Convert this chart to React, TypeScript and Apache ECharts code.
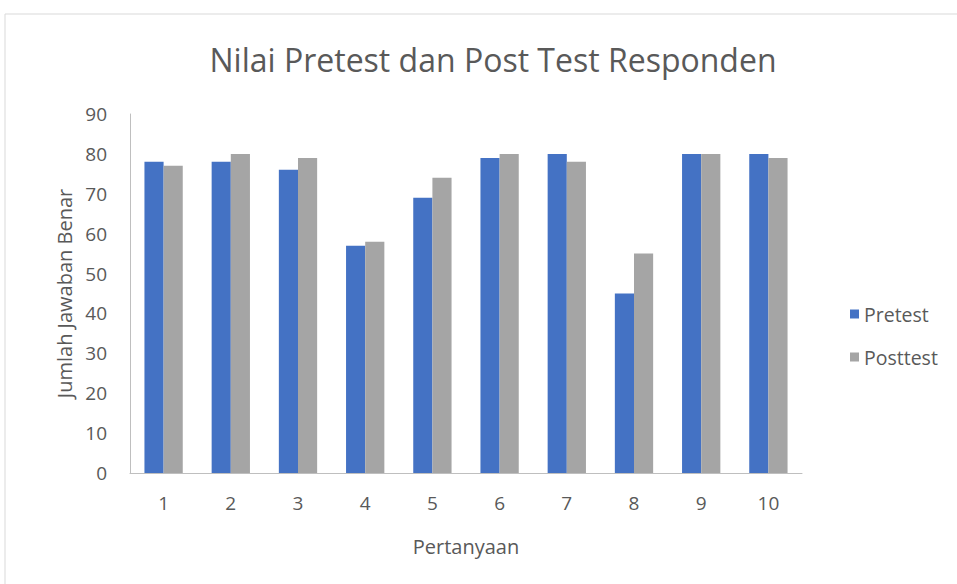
import React, { useEffect, useRef } from "react";
import * as echarts from "echarts";

const categories = ["1", "2", "3", "4", "5", "6", "7", "8", "9", "10"];
const pretest = [78, 78, 76, 57, 69, 79, 80, 45, 80, 80];
const posttest = [77, 80, 79, 58, 74, 80, 78, 55, 80, 79];

const FONT = "'Open Sans', 'Noto Sans', sans-serif";

export default function App() {
  const ref = useRef<HTMLDivElement>(null);
  useEffect(() => {
    if (!ref.current) return;
    const chart = echarts.init(ref.current, null, { renderer: "svg" });
    chart.setOption({
      animation: false,
      backgroundColor: "#ffffff",
      graphic: [
        {
          type: "rect",
          shape: { x: 5, y: 14, width: 1000, height: 620 },
          style: { fill: "none", stroke: "#d9d9d9", lineWidth: 1 },
          silent: true,
        },
      ],
      title: {
        text: "Nilai Pretest dan Post Test Responden",
        left: 488,
        textAlign: "center",
        top: 38,
        textStyle: { fontFamily: FONT, fontSize: 32, fontWeight: "normal", color: "#595959" },
      },
      legend: {
        orient: "vertical",
        left: 845,
        top: 299,
        itemGap: 23,
        itemWidth: 9,
        itemHeight: 9,
        icon: "rect",
        textStyle: { fontFamily: FONT, fontSize: 19.5, color: "#595959" },
        data: ["Pretest", "Posttest"],
      },
      grid: { left: 130, right: 155, top: 114, bottom: 111 },
      xAxis: {
        type: "category",
        data: categories,
        name: "Pertanyaan",
        nameLocation: "middle",
        nameGap: 63,
        nameTextStyle: { fontFamily: FONT, fontSize: 20, color: "#595959" },
        axisLine: { lineStyle: { color: "#bfbfbf" } },
        axisTick: { show: false },
        axisLabel: { fontFamily: FONT, fontSize: 19, color: "#595959", margin: 20 },
      },
      yAxis: {
        type: "value",
        min: 0,
        max: 90,
        interval: 10,
        name: "Jumlah Jawaban Benar",
        nameLocation: "middle",
        nameGap: 52,
        nameTextStyle: { fontFamily: FONT, fontSize: 20, color: "#595959" },
        axisLine: { show: true, lineStyle: { color: "#bfbfbf" } },
        axisTick: { show: false },
        splitLine: { show: false },
        axisLabel: { fontFamily: FONT, fontSize: 19, color: "#595959", margin: 23 },
      },
      series: [
        {
          name: "Pretest",
          type: "bar",
          data: pretest,
          itemStyle: { color: "#4472C4" },
          barGap: "0%",
          barCategoryGap: "43%",
        },
        {
          name: "Posttest",
          type: "bar",
          data: posttest,
          itemStyle: { color: "#A5A5A5" },
          barGap: "0%",
          barCategoryGap: "43%",
        },
      ],
    });
    return () => chart.dispose();
  }, []);
  return (
    <div
      ref={ref}
      style={{ position: "fixed", left: 0, top: 0, width: 957, height: 584, background: "#fff" }}
    />
  );
}
